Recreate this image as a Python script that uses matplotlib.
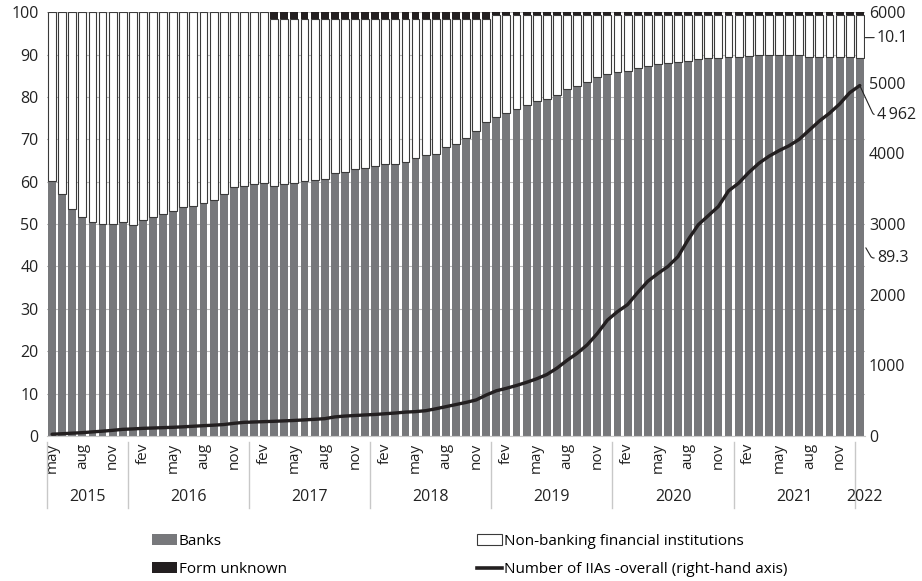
import matplotlib.pyplot as plt
from matplotlib.patches import Patch
from matplotlib.lines import Line2D

plt.rcParams['font.family'] = ['Open Sans', 'DejaVu Sans']

# udział banków, %, maj 2015 - sty 2022
banks = [60.2, 57.2, 53.5, 51.7, 50.6, 50.0, 50.0, 50.4, 49.8, 50.9, 51.7, 52.4,
         53.2, 54.0, 54.3, 55.0, 55.7, 57.0, 58.7, 59.0, 59.4, 59.6,
         59.0, 59.5, 59.8, 60.1, 60.3, 60.6, 62.0, 62.4, 63.0, 63.3, 63.7, 64.1,
         64.2, 64.7, 65.7, 66.2, 66.5, 68.1, 68.9, 70.3, 72.0, 74.0, 75.3, 76.3,
         77.1, 78.0, 79.1, 79.5, 80.5, 81.8, 82.5, 83.6, 84.6, 85.5, 86.0, 86.2,
         86.8, 87.4, 87.8, 87.9, 88.2, 88.5, 88.9, 89.2, 89.2, 89.4, 89.5, 89.7,
         89.9, 89.9, 89.9, 89.9, 89.9, 89.5, 89.5, 89.5, 89.5, 89.5, 89.3]
unknown = [0.0] * 22 + [1.6] * 5 + [1.7] * 12 + [1.5] * 5 + [0.7] * 20 + [0.6] * 17
iias = [25, 32, 40, 47, 58, 68, 80, 94, 100, 108, 113, 118, 123, 130, 138, 146,
        153, 162, 179, 193, 198, 203, 208, 214, 220, 228, 236, 245, 270, 282, 290,
        298, 305, 315, 325, 338, 345, 358, 385, 415, 445, 475, 510, 580, 640, 675,
        715, 760, 810, 870, 960, 1070, 1170, 1290, 1450, 1640, 1760, 1860, 2030,
        2190, 2300, 2400, 2540, 2780, 2990, 3120, 3250, 3470, 3580, 3730, 3860,
        3960, 4040, 4110, 4200, 4330, 4460, 4570, 4700, 4860, 4962]
nonbank = [round(100 - b - u, 1) for b, u in zip(banks, unknown)]

years = ['2015', '2016', '2017', '2018', '2019', '2020', '2021', '2022']
start_month = 5  # maj 2015
month_names = {2: 'fev', 5: 'may', 8: 'aug', 11: 'nov'}

n = len(banks)
x = list(range(n))

fig = plt.figure(figsize=(9.22, 5.81), dpi=100)
ax = fig.add_axes([0.051, 0.2496, 0.887, 0.7294])
ax2 = ax.twinx()

szary = '#77787b'
czarny = '#231f20'
w = 0.78

ax.set_axisbelow(True)
ax.yaxis.grid(True, color='#bdbdbd', linewidth=0.8)
ax.bar(x, banks, width=w, color=szary, linewidth=0, zorder=2)
ax.bar(x, nonbank, width=w, bottom=banks, color='white', edgecolor='#3a3a3a',
       linewidth=0.8, zorder=2)
bottom2 = [b + nb for b, nb in zip(banks, nonbank)]
ax.bar(x, unknown, width=w, bottom=bottom2, color=czarny, linewidth=0, zorder=2)

ax2.plot(x, iias, color=czarny, linewidth=2.4, solid_capstyle='round')

ax.set_xlim(-0.5, n - 0.5)
ax.set_ylim(0, 100)
ax2.set_ylim(0, 6000)
ax.set_yticks(range(0, 101, 10))
ax2.set_yticks(range(0, 6001, 1000))
ax.tick_params(axis='y', length=0, labelsize=11.5, colors='#222222', pad=6)
ax2.tick_params(axis='y', length=0, labelsize=11.5, colors='#222222', pad=3)

for a in (ax, ax2):
    for s in a.spines.values():
        s.set_visible(False)
ax.spines['bottom'].set_visible(True)
ax.spines['bottom'].set_color('#c8c8c8')

# etykiety miesięcy
ticks = []
labels = []
for i in range(n):
    m = (start_month - 1 + i) % 12 + 1
    if m in month_names and i < n - 1:
        ticks.append(i)
        labels.append(month_names[m])
ax.set_xticks(ticks)
ax.set_xticklabels(labels, rotation=90, fontsize=11, color='#222222')
ax.tick_params(axis='x', length=0, pad=5)

# lata i separatory
trans = ax.get_xaxis_transform()
year_idx = {}
for i in range(n):
    y = 2015 + (start_month - 1 + i) // 12
    year_idx.setdefault(str(y), []).append(i)
for yr in years:
    idx = year_idx[yr]
    ax.plot([idx[0] - 0.5, idx[0] - 0.5], [-0.015, -0.17], transform=trans,
            color='#c8c8c8', linewidth=1, clip_on=False)
    ax.text((idx[0] + idx[-1]) / 2 + (0.5 if yr == '2022' else 0), -0.143, yr,
            transform=trans, ha='center', va='center', fontsize=11.5, color='#222222')

# opisy ostatnich wartości
ax.annotate('10.1', xy=(n - 0.45, 94.0), xytext=(n + 0.7, 94.0),
            va='center', ha='left', fontsize=11.5, color='#222222',
            arrowprops=dict(arrowstyle='-', color='#222222', lw=0.8,
                            shrinkA=0, shrinkB=0), annotation_clip=False)
ax2.annotate('4\u2009962', xy=(n - 1, iias[-1]), xytext=(n + 0.7, 4550),
             va='center', ha='left', fontsize=11.5, color='#222222',
             arrowprops=dict(arrowstyle='-', color='#222222', lw=0.8,
                             connectionstyle='angle,angleA=0,angleB=-65,rad=2',
                             shrinkA=0, shrinkB=0), annotation_clip=False)
ax.annotate('89.3', xy=(n - 0.4, 44.4), xytext=(n + 0.7, 42.0),
            va='center', ha='left', fontsize=11.5, color='#222222',
            arrowprops=dict(arrowstyle='-', color='#222222', lw=0.8,
                            connectionstyle='angle,angleA=0,angleB=-60,rad=2',
                            shrinkA=0, shrinkB=0), annotation_clip=False)

handles = [Patch(facecolor=szary, edgecolor='none'),
           Patch(facecolor=czarny, edgecolor='none'),
           Patch(facecolor='white', edgecolor='#3a3a3a', linewidth=0.8),
           Line2D([0], [0], color=czarny, linewidth=2.6)]
names = ['Banks', 'Form unknown', 'Non-banking financial institutions',
         'Number of IIAs -overall (right-hand axis)']
fig.legend(handles, names, ncol=2, loc='upper left', bbox_to_anchor=(0.165, 0.081),
           frameon=False, fontsize=11, handlelength=1.6, handleheight=0.7,
           handletextpad=0.15, columnspacing=12.45, labelspacing=0.85,
           borderaxespad=0, borderpad=0)

fig.savefig('out.png', dpi=100)
